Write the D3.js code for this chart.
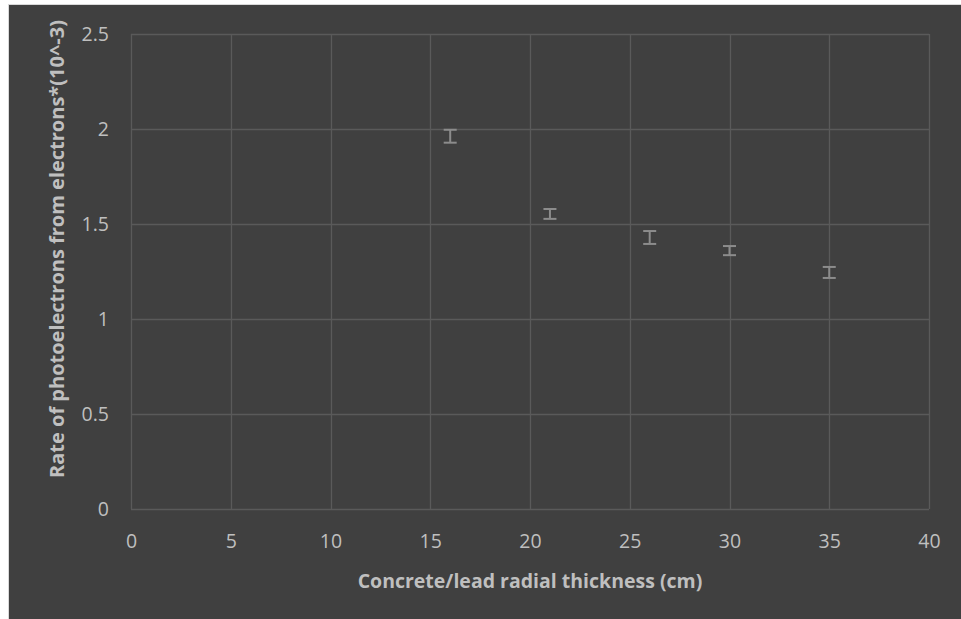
<!DOCTYPE html>
<html>
<head>
<meta charset="utf-8">
<script src="https://cdn.jsdelivr.net/npm/d3@7"></script>
<style>
  body { margin: 0; background: #ffffff; }
  text { font-family: "Open Sans", "Noto Sans", sans-serif; }
</style>
</head>
<body>
<div id="chart"></div>
<script>
    // data
    var thickness = [16, 21, 26, 30, 35];
    var rate = [1.962, 1.553, 1.429, 1.360, 1.245];
    var rateErr = [0.034, 0.026, 0.034, 0.024, 0.029];
    var xTicks = [0, 5, 10, 15, 20, 25, 30, 35, 40];
    var yTicks = [0, 0.5, 1, 1.5, 2, 2.5];

    var svgWidth = 961;
    var svgHeight = 619;

    var margin = { top: 34, right: 32, bottom: 110, left: 131 };
    var width = 929 - margin.left;
    var height = 509 - margin.top;

    var svg = d3.select("#chart")
      .append("svg")
      .attr("width", svgWidth)
      .attr("height", svgHeight);

    // dark chart area with thin light border on top/left
    svg.append("rect")
      .attr("x", 8.5)
      .attr("y", 4.5)
      .attr("width", svgWidth)
      .attr("height", svgHeight)
      .attr("fill", "#404040")
      .attr("stroke", "#d9d9d9")
      .attr("stroke-width", 1);

    var chartGroup = svg.append("g")
      .attr("transform", `translate(${margin.left}, ${margin.top})`);

    var xScale = d3.scaleLinear().domain([0, 40]).range([0, width]);
    var yScale = d3.scaleLinear().domain([0, 2.5]).range([height, 0]);

    // gridlines
    chartGroup.append("g")
      .selectAll("line")
      .data(xTicks)
      .enter()
      .append("line")
      .attr("x1", d => Math.round(xScale(d)) + 0.5)
      .attr("x2", d => Math.round(xScale(d)) + 0.5)
      .attr("y1", 0)
      .attr("y2", height)
      .attr("stroke", "#5a5a5a")
      .attr("stroke-width", 1.3);

    chartGroup.append("g")
      .selectAll("line")
      .data(yTicks)
      .enter()
      .append("line")
      .attr("x1", 0)
      .attr("x2", width)
      .attr("y1", d => Math.round(yScale(d)) + 0.5)
      .attr("y2", d => Math.round(yScale(d)) + 0.5)
      .attr("stroke", "#5a5a5a")
      .attr("stroke-width", 1.3);

    // axes (labels only, lines come from the grid)
    var bottomAxis = d3.axisBottom(xScale).tickValues(xTicks).tickSize(0).tickPadding(0);
    var leftAxis = d3.axisLeft(yScale).tickValues(yTicks).tickSize(0).tickPadding(0)
      .tickFormat(d3.format(""));

    var xAxis = chartGroup.append("g")
      .attr("transform", `translate(0, ${height})`)
      .call(bottomAxis);
    xAxis.select(".domain").remove();
    xAxis.selectAll("text")
      .attr("y", 32)
      .attr("dy", "0.35em")
      .attr("fill", "#bfbfbf")
      .style("font-size", "19.5px");

    var yAxis = chartGroup.append("g")
      .call(leftAxis);
    yAxis.select(".domain").remove();
    yAxis.selectAll("text")
      .attr("x", -22)
      .attr("fill", "#bfbfbf")
      .style("font-size", "19.5px");

    // error bars
    var bars = chartGroup.append("g")
      .selectAll("g")
      .data(thickness.map((t, i) => ({ x: t, y: rate[i], e: rateErr[i] })))
      .enter()
      .append("g")
      .attr("stroke", "#8c8c8c")
      .attr("stroke-width", 2);

    bars.append("line")
      .attr("x1", d => xScale(d.x))
      .attr("x2", d => xScale(d.x))
      .attr("y1", d => yScale(d.y + d.e))
      .attr("y2", d => yScale(d.y - d.e));
    bars.append("line")
      .attr("x1", d => xScale(d.x) - 6.5)
      .attr("x2", d => xScale(d.x) + 6.5)
      .attr("y1", d => yScale(d.y + d.e))
      .attr("y2", d => yScale(d.y + d.e));
    bars.append("line")
      .attr("x1", d => xScale(d.x) - 6.5)
      .attr("x2", d => xScale(d.x) + 6.5)
      .attr("y1", d => yScale(d.y - d.e))
      .attr("y2", d => yScale(d.y - d.e));

    // axis titles
    svg.append("text")
      .attr("x", 530)
      .attr("y", 588)
      .attr("text-anchor", "middle")
      .attr("font-weight", "bold")
      .attr("fill", "#bfbfbf")
      .style("font-size", "19.5px")
      .text("Concrete/lead radial thickness (cm)");

    svg.append("text")
      .attr("transform", "translate(64, 249) rotate(-90)")
      .attr("text-anchor", "middle")
      .attr("font-weight", "bold")
      .attr("fill", "#bfbfbf")
      .style("font-size", "20px")
      .text("Rate of photoelectrons from electrons*(10^-3)");
</script>
</body>
</html>
